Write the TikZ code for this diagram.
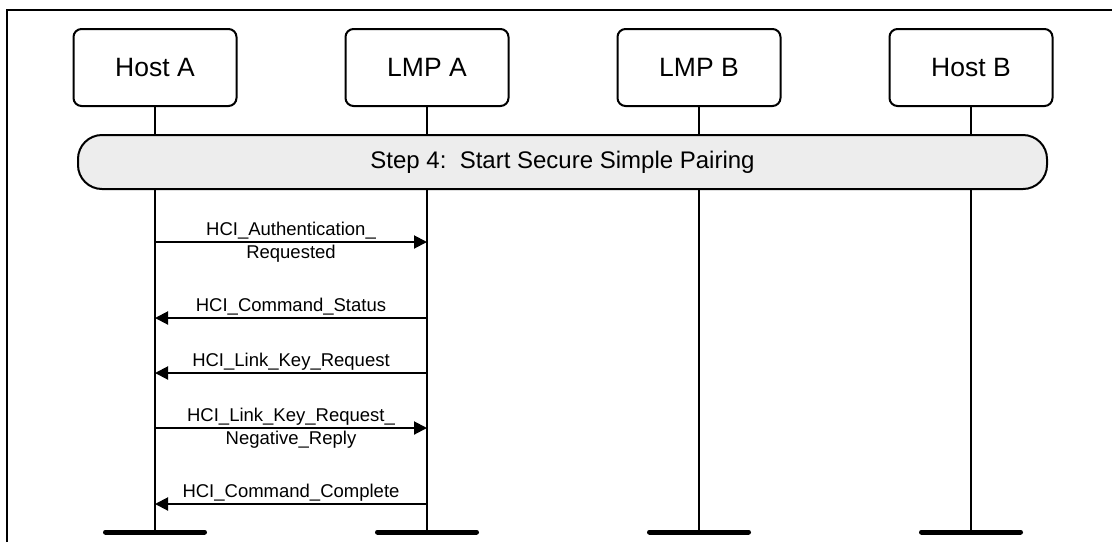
\documentclass[tikz,border=0pt]{standalone}
\usepackage{fontspec}
\setmainfont{Liberation Sans}
\usetikzlibrary{arrows.meta}
\definecolor{barfill}{RGB}{237,237,237}
\begin{document}
\begin{tikzpicture}[x=1pt,y=-1pt,
  actor/.style={draw, line width=2pt, rounded corners=8pt, minimum width=163pt, minimum height=77pt, inner sep=0pt, font=\fontsize{26.5}{30}\selectfont},
  stepbar/.style={draw, fill=barfill, line width=2pt, rounded corners=24pt, minimum width=969pt, minimum height=54pt, inner sep=0pt, font=\fontsize{24}{28}\selectfont},
  life/.style={line width=2pt},
  msg/.style={line width=2pt, -{Triangle[length=13pt,width=13pt]}},
  lblup/.style={font=\fontsize{18.5}{22}\selectfont, inner sep=0pt, anchor=base, yshift=6.5pt},
  lbldown/.style={font=\fontsize{18.5}{22}\selectfont, inner sep=0pt, anchor=base, yshift=-16pt},
  ground/.style={line width=5pt, line cap=round},
  frame/.style={line width=2pt}]
\useasboundingbox (0,0) rectangle (1112,542);
% frame
\draw[frame] (7,542) -- (7,10) -- (1112,10);
% actors
\node[actor] (hA) at (155,67.5) {Host A};
\node[actor] (lA) at (427,67.5) {LMP A};
\node[actor] (lB) at (699,67.5) {LMP B};
\node[actor] (hB) at (971,67.5) {Host B};
% step bar
\node[stepbar] (step) at (562.5,162) {Step 4:\ \ Start Secure Simple Pairing};
% end points of lifelines
\coordinate (eA) at (155,532);
\coordinate (eL) at (427,532);
\coordinate (eM) at (699,532);
\coordinate (eH) at (971,532);
% lifelines
\foreach \n/\e in {hA/eA, lA/eL, lB/eM, hB/eH}{
  \draw[life] (\n.south) -- (\n.south |- step.north);
  \draw[life] (\n.south |- step.south) -- (\e);
  \draw[ground] ([xshift=-49.5pt]\e) -- ([xshift=49.5pt]\e);
}
% message levels
\coordinate (m1) at (0,242);
\coordinate (m2) at (0,318);
\coordinate (m3) at (0,373);
\coordinate (m4) at (0,428);
\coordinate (m5) at (0,504);
\draw[msg] (eA |- m1) -- (eL |- m1)
  node[midway, lblup] {HCI\_Authentication\_}
  node[midway, lbldown] {Requested};
\draw[msg] (eL |- m2) -- (eA |- m2)
  node[midway, lblup] {HCI\_Command\_Status};
\draw[msg] (eL |- m3) -- (eA |- m3)
  node[midway, lblup] {HCI\_Link\_Key\_Request};
\draw[msg] (eA |- m4) -- (eL |- m4)
  node[midway, lblup] {HCI\_Link\_Key\_Request\_}
  node[midway, lbldown] {Negative\_Reply};
\draw[msg] (eL |- m5) -- (eA |- m5)
  node[midway, lblup] {HCI\_Command\_Complete};
\end{tikzpicture}
\end{document}
